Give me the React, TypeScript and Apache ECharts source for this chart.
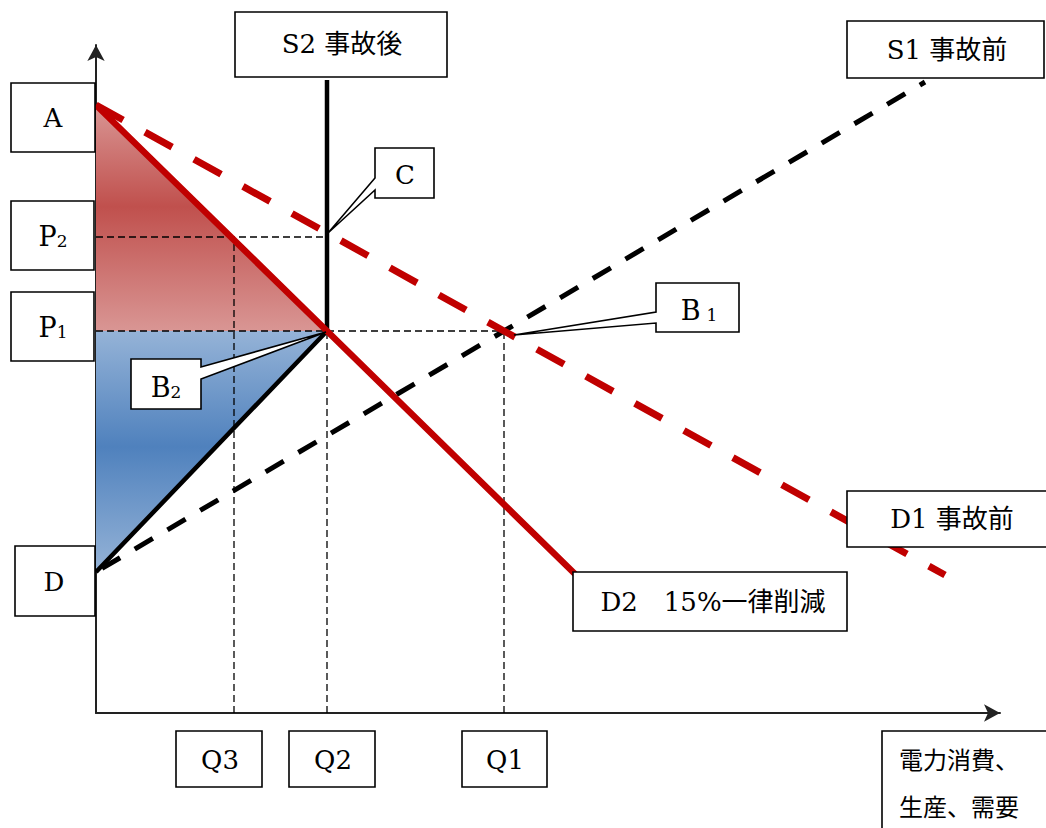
import React, { useEffect, useRef } from "react";
import * as echarts from "echarts";

// ---- data (quantity on x, price on y; arbitrary units) ----
const X_MAX = 904;
const Y_MAX = 668;

const demandBefore: number[][] = [[0, 608], [408, 382], [849, 138]]; // D1 事故前
const demandCut: number[][] = [[0, 608], [231, 382], [479, 139]]; // D2 15%一律削減
const supplyBefore: number[][] = [[0, 141], [408, 382], [829, 631]]; // S1 事故前
const supplyAfter: number[][] = [[0, 141], [231, 382], [231, 633]]; // S2 事故後

const areaRed: number[][] = [[0, 608], [231, 382], [0, 382]];
const areaBlue: number[][] = [[0, 382], [231, 382], [0, 141]];

const guideP2: number[][] = [[0, 476], [231, 476]];
const guideP1: number[][] = [[0, 382], [408, 382]];
const guideQ3: number[][] = [[138, 0], [138, 476]];
const guideQ2: number[][] = [[231, 0], [231, 382]];
const guideQ1: number[][] = [[408, 0], [408, 382]];

const pointC: number[] = [231, 476];
const pointB1: number[] = [408, 382];
const pointB2: number[] = [231, 382];

const FONT = "'DejaVu Serif', 'Noto Sans CJK JP', serif";
const FS = 26;

function rectBox(x: number, y: number, w: number, h: number) {
  return {
    type: "rect",
    z: 100,
    shape: { x, y, width: w, height: h },
    style: { fill: "#fff", stroke: "#000", lineWidth: 1.6 },
  };
}

function label(cx: number, cy: number, text: string, extra: any = {}) {
  return {
    type: "text",
    z: 101,
    x: cx,
    y: cy,
    style: {
      text,
      fontSize: FS,
      fontFamily: FONT,
      fill: "#000",
      align: "center",
      verticalAlign: "middle",
      ...extra,
    },
  };
}

function subLabel(cx: number, cy: number, main: string, sub: string, gap = 0) {
  return label(cx, cy, `{m|${main}}{s|${sub}}`, {
    rich: {
      m: { fontSize: 27, fontFamily: FONT, fill: "#000", padding: [0, gap, 0, 0] },
      s: { fontSize: 17, fontFamily: FONT, fill: "#000", padding: [9, 0, 0, 0] },
    },
  });
}

function callout(points: number[][]) {
  return {
    type: "polygon",
    z: 100,
    shape: { points },
    style: { fill: "#fff", stroke: "#000", lineWidth: 1.6 },
  };
}

function lineSeries(
  data: number[][],
  color: string,
  width: number,
  type: any,
  z = 5,
  dashOffset = 0
) {
  return {
    type: "line",
    data,
    showSymbol: false,
    silent: true,
    z,
    lineStyle: { color, width, type, cap: "butt", dashOffset },
  };
}

function areaSeries(pts: number[][], stops: any[]) {
  return {
    type: "custom",
    silent: true,
    z: 1,
    data: [[0, 0]],
    renderItem: (_p: any, api: any) => ({
      type: "polygon",
      shape: { points: pts.map((p) => api.coord(p)) },
      style: {
        fill: new echarts.graphic.LinearGradient(0, 0, 0, 1, stops),
      },
    }),
  };
}

export default function App() {
  const ref = useRef<HTMLDivElement>(null);

  useEffect(() => {
    if (!ref.current) return;
    const chart = echarts.init(ref.current, null, { renderer: "svg" });
    const axisLine = {
      show: true,
      onZero: false,
      symbol: ["none", "arrow"],
      symbolSize: [13, 16],
      lineStyle: { color: "#222", width: 2 },
    };
    chart.setOption({
      animation: false,
      backgroundColor: "#fff",
      grid: { left: 96, right: 46, top: 45, bottom: 115 },
      xAxis: {
        type: "value",
        min: 0,
        max: X_MAX,
        axisLine,
        axisTick: { show: false },
        axisLabel: { show: false },
        splitLine: { show: false },
      },
      yAxis: {
        type: "value",
        min: 0,
        max: Y_MAX,
        axisLine,
        axisTick: { show: false },
        axisLabel: { show: false },
        splitLine: { show: false },
      },
      series: [
        areaSeries(areaRed, [
          { offset: 0, color: "#d99694" },
          { offset: 0.45, color: "#c0504d" },
          { offset: 1, color: "#d99694" },
        ]),
        areaSeries(areaBlue, [
          { offset: 0, color: "#95b3d7" },
          { offset: 0.48, color: "#4f81bd" },
          { offset: 1, color: "#95b3d7" },
        ]),
        lineSeries(guideP2, "#000", 1.3, [7, 4], 3),
        lineSeries(guideP1, "#000", 1.3, [7, 4], 3),
        lineSeries(guideQ3, "#000", 1.3, [7, 4], 3),
        lineSeries(guideQ2, "#000", 1.3, [7, 4], 3),
        lineSeries(guideQ1, "#000", 1.3, [7, 4], 3),
        lineSeries(supplyBefore, "#000", 5, [21, 17], 4, 31),
        lineSeries(demandBefore, "#c00000", 7, [31, 25], 5),
        lineSeries(supplyAfter, "#000", 4.5, "solid", 6),
        lineSeries(demandCut, "#c00000", 6.5, "solid", 7),
      ],
    });

    const px = (p: number[]) => chart.convertToPixel({ gridIndex: 0 }, p) as number[];
    const c = px(pointC);
    const b1 = px(pointB1);
    const b2 = px(pointB2);

    const graphics: any[] = [
      // S2
      rectBox(235, 12, 212, 65),
      label(342, 44, "S2 事故後"),
      // S1
      rectBox(847, 21, 197, 57),
      label(947, 50, "S1 事故前"),
      // A
      rectBox(11, 83, 84, 69),
      label(53, 118, "A"),
      // C
      callout([
        [375, 148], [434, 148], [434, 198], [375, 198], [375, 190],
        [c[0] + 1, c[1] - 4], [375, 178],
      ]),
      label(405, 175, "C"),
      // P2
      rectBox(11, 201, 83, 69),
      subLabel(53, 236, "P", "2"),
      // P1
      rectBox(11, 292, 83, 69),
      subLabel(53, 327, "P", "1"),
      // B1
      callout([
        [656, 283], [739, 283], [739, 332], [656, 332], [656, 323],
        [b1[0] + 10, b1[1] + 4], [656, 312],
      ]),
      subLabel(699, 310, "B", "1", 6),
      // B2
      callout([
        [131, 359], [201, 359], [201, 367], [b2[0] - 1, b2[1] + 1], [201, 379],
        [201, 409], [131, 409],
      ]),
      subLabel(166, 387, "B", "2"),
      // D
      rectBox(15, 546, 80, 70),
      label(54, 582, "D"),
      // D1
      rectBox(847, 491, 210, 56),
      label(952, 519, "D1 事故前"),
      // D2
      rectBox(573, 572, 274, 59),
      label(713, 602, "D2　15%一律削減"),
      // Q labels
      rectBox(176, 731, 86, 56),
      label(220, 760, "Q3"),
      rectBox(289, 731, 86, 56),
      label(333, 760, "Q2"),
      rectBox(462, 731, 85, 56),
      label(505, 760, "Q1"),
      // axis title
      rectBox(882, 731, 180, 110),
      label(899, 784, "電力消費、\n生産、需要", {
        align: "left",
        fontSize: 24,
        lineHeight: 47,
      }),
    ];
    chart.setOption({ graphic: { elements: graphics } });

    return () => chart.dispose();
  }, []);

  return (
    <div
      ref={ref}
      style={{ position: "fixed", left: 0, top: 0, width: 1046, height: 828, background: "#fff" }}
    />
  );
}
